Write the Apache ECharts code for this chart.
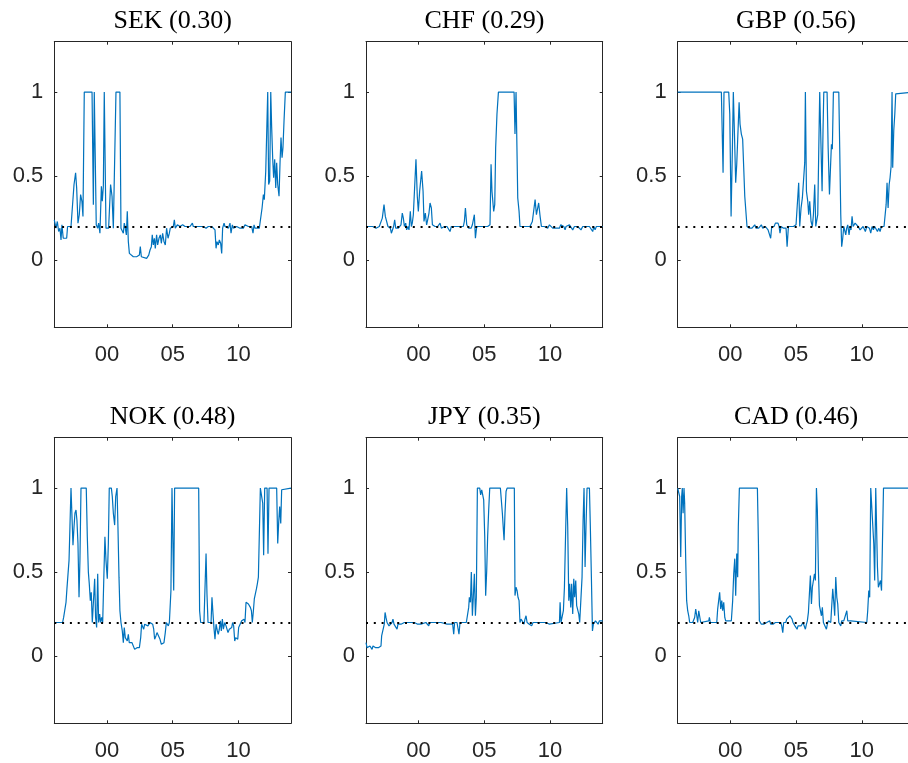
<!DOCTYPE html>
<html><head><meta charset="utf-8">
<script src="https://cdn.jsdelivr.net/npm/echarts@6/dist/echarts.min.js"></script>
<style>html,body{margin:0;padding:0;background:#fff}#chart{width:908px;height:763px}</style>
</head><body><div id="chart"></div>
<script>
const currencies = ['SEK','CHF','GBP','NOK','JPY','CAD'];
const shares = ['0.30','0.29','0.56','0.48','0.35','0.46'];
const xTickYears = [2000, 2005, 2010];
const xTickLabels = ['00', '05', '10'];
const yTicks = [0, 0.5, 1];
const yTickLabels = ['0', '0.5', '1'];
const threshold = 0.2;

const sekData = [[1996.00,0.24],[1996.13,0.19],[1996.23,0.23],[1996.33,0.17],[1996.43,0.19],[1996.51,0.12],[1996.58,0.21],[1996.68,0.13],[1996.81,0.14],[1996.94,0.13],[1997.01,0.20],[1997.27,0.20],[1997.39,0.21],[1997.50,0.45],[1997.62,0.52],[1997.70,0.43],[1997.80,0.22],[1997.90,0.27],[1998.00,0.39],[1998.10,0.35],[1998.18,0.26],[1998.28,1],[1998.87,1],[1998.97,0.33],[1999.04,1],[1999.12,1],[1999.19,0.21],[1999.30,0.19],[1999.37,0.22],[1999.47,0.16],[1999.58,0.44],[1999.65,0.35],[1999.73,0.44],[1999.80,1],[1999.88,1],[1999.93,0.19],[2000.03,0.20],[2000.13,0.19],[2000.28,0.45],[2000.39,0.38],[2000.49,0.19],[2000.61,0.20],[2000.69,1],[2000.99,1],[2001.07,0.19],[2001.17,0.20],[2001.25,0.16],[2001.32,0.22],[2001.40,0.19],[2001.48,0.15],[2001.55,0.29],[2001.63,0.11],[2001.71,0.04],[2001.83,0.03],[2002.01,0.02],[2002.26,0.02],[2002.47,0.03],[2002.54,0.08],[2002.62,0.02],[2002.77,0.01],[2003.02,0.01],[2003.18,0.03],[2003.28,0.06],[2003.38,0.08],[2003.45,0.15],[2003.53,0.09],[2003.61,0.13],[2003.68,0.07],[2003.78,0.15],[2003.86,0.09],[2003.96,0.13],[2004.06,0.15],[2004.14,0.10],[2004.24,0.16],[2004.34,0.11],[2004.44,0.09],[2004.54,0.19],[2004.65,0.13],[2004.75,0.16],[2004.82,0.19],[2004.95,0.18],[2005.05,0.20],[2005.13,0.24],[2005.20,0.19],[2005.36,0.21],[2005.56,0.20],[2005.76,0.21],[2005.94,0.20],[2006.12,0.20],[2006.32,0.20],[2006.50,0.22],[2006.57,0.20],[2006.83,0.20],[2007.08,0.20],[2007.33,0.20],[2007.54,0.19],[2007.71,0.20],[2007.84,0.19],[2007.97,0.20],[2008.09,0.20],[2008.22,0.18],[2008.30,0.07],[2008.37,0.11],[2008.47,0.09],[2008.55,0.12],[2008.65,0.10],[2008.73,0.04],[2008.80,0.19],[2008.91,0.22],[2008.98,0.20],[2009.11,0.21],[2009.24,0.19],[2009.36,0.22],[2009.44,0.16],[2009.54,0.21],[2009.62,0.19],[2009.74,0.20],[2009.87,0.20],[2010.00,0.20],[2010.12,0.19],[2010.25,0.20],[2010.38,0.19],[2010.50,0.21],[2010.63,0.20],[2010.76,0.20],[2010.88,0.20],[2011.01,0.20],[2011.11,0.16],[2011.19,0.21],[2011.26,0.19],[2011.39,0.20],[2011.59,0.19],[2011.72,0.20],[2011.80,0.31],[2011.90,0.39],[2011.97,0.36],[2012.08,0.53],[2012.15,0.54],[2012.23,1],[2012.30,0.45],[2012.38,0.47],[2012.46,1],[2012.53,0.79],[2012.61,0.60],[2012.68,0.49],[2012.76,0.60],[2012.84,0.43],[2012.91,0.58],[2012.99,0.45],[2013.09,0.38],[2013.17,0.59],[2013.24,0.73],[2013.32,0.61],[2013.39,0.67],[2013.47,0.83],[2013.57,1],[2014.00,1]];

const chfData = [[1996.00,0.20],[1996.25,0.20],[1996.51,0.20],[1996.76,0.19],[1997.01,0.20],[1997.14,0.20],[1997.24,0.25],[1997.37,0.33],[1997.47,0.26],[1997.57,0.25],[1997.67,0.20],[1997.77,0.21],[1997.85,0.19],[1997.93,0.16],[1998.03,0.17],[1998.10,0.20],[1998.18,0.24],[1998.26,0.19],[1998.36,0.20],[1998.46,0.19],[1998.56,0.20],[1998.66,0.21],[1998.76,0.28],[1998.84,0.25],[1998.92,0.20],[1999.02,0.22],[1999.09,0.18],[1999.19,0.20],[1999.27,0.18],[1999.37,0.29],[1999.45,0.20],[1999.52,0.22],[1999.60,0.27],[1999.68,0.27],[1999.75,0.27],[1999.80,0.60],[1999.90,0.38],[1999.98,0.29],[2000.08,0.41],[2000.23,0.53],[2000.34,0.41],[2000.41,0.23],[2000.51,0.28],[2000.61,0.21],[2000.69,0.24],[2000.79,0.28],[2000.87,0.34],[2000.97,0.31],[2001.05,0.21],[2001.15,0.20],[2001.25,0.20],[2001.35,0.19],[2001.45,0.20],[2001.55,0.20],[2001.63,0.22],[2001.73,0.19],[2001.83,0.20],[2001.96,0.20],[2002.06,0.19],[2002.16,0.20],[2002.29,0.19],[2002.39,0.17],[2002.49,0.20],[2002.72,0.20],[2002.97,0.20],[2003.23,0.20],[2003.40,0.20],[2003.48,0.23],[2003.56,0.31],[2003.66,0.21],[2003.73,0.20],[2003.81,0.19],[2003.89,0.20],[2003.99,0.19],[2004.09,0.21],[2004.16,0.20],[2004.24,0.27],[2004.32,0.13],[2004.42,0.20],[2004.54,0.20],[2004.75,0.20],[2005.00,0.20],[2005.13,0.19],[2005.25,0.20],[2005.38,0.20],[2005.43,0.21],[2005.51,0.57],[2005.58,0.41],[2005.71,0.29],[2005.79,0.33],[2005.86,0.67],[2005.96,0.87],[2006.07,1],[2007.26,1],[2007.33,0.75],[2007.41,1],[2007.46,1],[2007.54,0.37],[2007.64,0.29],[2007.71,0.20],[2007.79,0.19],[2008.04,0.20],[2008.30,0.20],[2008.47,0.20],[2008.55,0.21],[2008.65,0.23],[2008.75,0.24],[2008.86,0.36],[2008.96,0.27],[2009.06,0.27],[2009.13,0.34],[2009.24,0.26],[2009.34,0.20],[2009.44,0.19],[2009.56,0.20],[2009.69,0.21],[2009.82,0.19],[2009.95,0.21],[2010.07,0.20],[2010.20,0.19],[2010.33,0.20],[2010.45,0.19],[2010.58,0.20],[2010.71,0.19],[2010.81,0.21],[2010.88,0.20],[2010.96,0.22],[2011.04,0.20],[2011.14,0.18],[2011.21,0.20],[2011.34,0.19],[2011.47,0.21],[2011.59,0.20],[2011.72,0.18],[2011.85,0.20],[2011.97,0.19],[2012.10,0.20],[2012.23,0.19],[2012.35,0.18],[2012.48,0.20],[2012.61,0.19],[2012.74,0.20],[2012.86,0.19],[2012.99,0.20],[2013.11,0.19],[2013.24,0.17],[2013.32,0.20],[2013.42,0.18],[2013.52,0.20],[2013.62,0.19],[2013.75,0.20],[2013.88,0.20],[2014.00,0.20]];

const gbpData = [[1996.00,1],[1999.32,1],[1999.40,1],[1999.45,0.52],[1999.52,1],[1999.88,1],[1999.96,0.87],[2000.06,0.26],[2000.16,0.67],[2000.23,1],[2000.31,0.77],[2000.41,0.46],[2000.49,0.57],[2000.56,0.56],[2000.67,0.94],[2000.74,0.81],[2000.84,0.75],[2000.94,0.72],[2001.02,0.55],[2001.10,0.38],[2001.20,0.38],[2001.27,0.20],[2001.38,0.20],[2001.45,0.19],[2001.55,0.20],[2001.65,0.19],[2001.76,0.20],[2001.86,0.21],[2001.96,0.19],[2002.06,0.20],[2002.16,0.19],[2002.26,0.20],[2002.36,0.21],[2002.47,0.19],[2002.57,0.20],[2002.67,0.20],[2002.77,0.21],[2002.87,0.18],[2002.97,0.19],[2003.07,0.13],[2003.15,0.20],[2003.23,0.19],[2003.33,0.20],[2003.43,0.22],[2003.53,0.21],[2003.63,0.22],[2003.71,0.20],[2003.78,0.16],[2003.86,0.20],[2003.94,0.19],[2004.04,0.19],[2004.14,0.20],[2004.24,0.19],[2004.32,0.08],[2004.42,0.20],[2004.49,0.19],[2004.60,0.20],[2004.70,0.19],[2004.80,0.20],[2004.90,0.20],[2005.00,0.21],[2005.13,0.20],[2005.20,0.46],[2005.28,0.20],[2005.38,0.31],[2005.48,0.37],[2005.56,0.37],[2005.66,0.58],[2005.71,1],[2005.79,0.41],[2005.89,0.35],[2005.96,0.27],[2006.04,0.35],[2006.14,0.23],[2006.24,0.20],[2006.32,0.27],[2006.42,0.45],[2006.50,0.20],[2006.57,0.20],[2006.65,0.27],[2006.73,0.67],[2006.80,1],[2006.85,1],[2006.93,0.57],[2006.98,0.41],[2007.05,0.77],[2007.11,1],[2007.36,1],[2007.44,0.67],[2007.54,0.39],[2007.61,0.53],[2007.69,0.69],[2007.76,0.66],[2007.84,1],[2008.25,1],[2008.32,0.67],[2008.40,0.27],[2008.47,0.08],[2008.55,0.13],[2008.63,0.20],[2008.70,0.21],[2008.78,0.15],[2008.85,0.19],[2008.93,0.21],[2009.03,0.15],[2009.11,0.20],[2009.18,0.18],[2009.26,0.26],[2009.34,0.20],[2009.41,0.21],[2009.49,0.22],[2009.56,0.21],[2009.64,0.22],[2009.72,0.20],[2009.79,0.21],[2009.87,0.18],[2009.95,0.19],[2010.02,0.18],[2010.10,0.20],[2010.17,0.21],[2010.27,0.17],[2010.38,0.20],[2010.48,0.21],[2010.58,0.19],[2010.68,0.16],[2010.78,0.20],[2010.88,0.18],[2010.98,0.20],[2011.09,0.19],[2011.19,0.17],[2011.29,0.19],[2011.39,0.17],[2011.49,0.20],[2011.59,0.19],[2011.69,0.20],[2011.80,0.20],[2011.85,0.33],[2011.92,0.46],[2012.00,0.31],[2012.08,0.45],[2012.15,0.49],[2012.23,0.56],[2012.30,1],[2012.35,0.55],[2012.43,0.77],[2012.51,0.87],[2012.58,0.99],[2012.66,1],[2014.00,1]];

const nokData = [[1996.00,0.20],[1996.63,0.20],[1996.71,0.23],[1996.79,0.27],[1996.89,0.32],[1996.96,0.40],[1997.04,0.41],[1997.12,0.57],[1997.19,0.77],[1997.27,1],[1997.34,1],[1997.42,0.66],[1997.50,0.77],[1997.57,0.85],[1997.65,0.87],[1997.72,0.81],[1997.80,0.67],[1997.88,0.35],[1997.95,0.57],[1998.03,1],[1998.43,1],[1998.51,0.71],[1998.59,0.50],[1998.66,0.43],[1998.74,0.33],[1998.81,0.38],[1998.89,0.20],[1998.99,0.19],[1999.07,0.46],[1999.14,0.23],[1999.22,0.17],[1999.30,0.49],[1999.37,0.20],[1999.45,0.25],[1999.52,0.20],[1999.60,0.23],[1999.68,0.20],[1999.78,0.51],[1999.85,0.71],[1999.93,0.57],[2000.03,0.46],[2000.11,0.67],[2000.18,1],[2000.34,1],[2000.41,0.95],[2000.49,0.85],[2000.59,0.78],[2000.67,0.95],[2000.77,1],[2000.84,0.77],[2000.92,0.47],[2000.99,0.27],[2001.07,0.20],[2001.17,0.15],[2001.25,0.08],[2001.32,0.17],[2001.40,0.11],[2001.48,0.11],[2001.55,0.09],[2001.63,0.13],[2001.70,0.08],[2001.81,0.08],[2001.91,0.08],[2002.01,0.08],[2002.11,0.04],[2002.19,0.05],[2002.29,0.05],[2002.39,0.05],[2002.47,0.05],[2002.57,0.11],[2002.64,0.19],[2002.72,0.20],[2002.80,0.16],[2002.87,0.19],[2002.95,0.18],[2003.02,0.20],[2003.12,0.18],[2003.20,0.19],[2003.28,0.20],[2003.38,0.20],[2003.48,0.19],[2003.56,0.16],[2003.63,0.10],[2003.73,0.12],[2003.81,0.14],[2003.89,0.13],[2003.96,0.13],[2004.04,0.10],[2004.14,0.07],[2004.24,0.06],[2004.34,0.08],[2004.44,0.14],[2004.52,0.20],[2004.60,0.19],[2004.67,0.18],[2004.75,0.20],[2004.80,0.21],[2004.87,0.39],[2004.95,1],[2005.03,1],[2005.08,0.39],[2005.15,1],[2006.98,1],[2007.05,0.27],[2007.13,0.20],[2007.21,0.21],[2007.28,0.20],[2007.38,0.20],[2007.46,0.20],[2007.54,0.61],[2007.61,0.37],[2007.69,0.20],[2007.76,0.21],[2007.84,0.20],[2007.92,0.20],[2007.99,0.35],[2008.07,0.25],[2008.15,0.16],[2008.22,0.10],[2008.30,0.19],[2008.40,0.15],[2008.47,0.13],[2008.55,0.16],[2008.63,0.21],[2008.70,0.15],[2008.78,0.22],[2008.86,0.16],[2008.96,0.20],[2009.06,0.18],[2009.13,0.17],[2009.21,0.14],[2009.31,0.16],[2009.41,0.15],[2009.49,0.17],[2009.56,0.20],[2009.64,0.18],[2009.72,0.09],[2009.79,0.11],[2009.87,0.11],[2009.95,0.10],[2010.02,0.17],[2010.10,0.18],[2010.17,0.16],[2010.25,0.21],[2010.33,0.20],[2010.43,0.22],[2010.50,0.20],[2010.58,0.32],[2010.66,0.32],[2010.76,0.31],[2010.83,0.32],[2010.91,0.29],[2010.99,0.27],[2011.06,0.20],[2011.14,0.27],[2011.21,0.34],[2011.29,0.37],[2011.37,0.40],[2011.44,0.43],[2011.52,0.47],[2011.59,0.48],[2011.67,1],[2011.75,1],[2011.85,0.91],[2011.92,0.60],[2012.00,1],[2012.18,1],[2012.25,0.61],[2012.33,1],[2012.91,1],[2012.99,0.67],[2013.06,0.79],[2013.14,0.89],[2013.22,0.79],[2013.29,0.99],[2013.37,1],[2014.00,1]];

const jpyData = [[1996.00,0.08],[1996.08,0.05],[1996.15,0.06],[1996.23,0.04],[1996.30,0.06],[1996.38,0.05],[1996.46,0.04],[1996.53,0.06],[1996.63,0.05],[1996.74,0.05],[1996.84,0.06],[1996.94,0.05],[1997.04,0.06],[1997.14,0.06],[1997.19,0.12],[1997.27,0.11],[1997.34,0.13],[1997.39,0.19],[1997.45,0.26],[1997.52,0.23],[1997.60,0.20],[1997.67,0.20],[1997.75,0.18],[1997.83,0.17],[1997.90,0.19],[1997.98,0.20],[1998.05,0.22],[1998.13,0.19],[1998.21,0.20],[1998.28,0.18],[1998.36,0.16],[1998.43,0.19],[1998.51,0.20],[1998.66,0.19],[1998.79,0.20],[1998.92,0.20],[1999.04,0.20],[1999.17,0.20],[1999.30,0.20],[1999.42,0.20],[1999.55,0.21],[1999.68,0.20],[1999.80,0.20],[1999.93,0.19],[2000.06,0.20],[2000.18,0.19],[2000.31,0.20],[2000.56,0.20],[2000.69,0.19],[2000.77,0.18],[2000.84,0.20],[2001.20,0.20],[2001.70,0.20],[2002.16,0.19],[2002.26,0.20],[2002.39,0.19],[2002.52,0.20],[2002.59,0.19],[2002.67,0.13],[2002.74,0.20],[2002.85,0.20],[2002.92,0.20],[2003.00,0.19],[2003.07,0.13],[2003.15,0.20],[2003.23,0.19],[2003.33,0.20],[2003.63,0.20],[2003.73,0.21],[2003.81,0.29],[2003.86,0.35],[2003.94,0.32],[2004.01,0.50],[2004.09,0.24],[2004.16,0.35],[2004.24,0.49],[2004.32,0.24],[2004.39,0.35],[2004.47,1],[2004.65,1],[2004.72,0.96],[2004.80,0.99],[2004.87,1],[2004.95,0.93],[2005.03,0.71],[2005.10,0.36],[2005.18,0.51],[2005.25,0.71],[2005.33,0.87],[2005.41,1],[2006.22,1],[2006.29,0.99],[2006.37,0.85],[2006.45,0.75],[2006.50,0.69],[2006.57,0.85],[2006.65,0.98],[2006.73,1],[2007.28,1],[2007.33,0.36],[2007.41,0.41],[2007.49,0.39],[2007.56,0.35],[2007.64,0.33],[2007.71,0.20],[2007.79,0.22],[2007.87,0.21],[2007.94,0.21],[2008.02,0.19],[2008.09,0.22],[2008.17,0.24],[2008.25,0.20],[2008.42,0.19],[2008.53,0.20],[2008.60,0.18],[2008.70,0.20],[2008.80,0.21],[2009.06,0.20],[2009.18,0.19],[2009.44,0.20],[2009.56,0.19],[2009.69,0.20],[2009.95,0.19],[2010.07,0.20],[2010.71,0.20],[2010.76,0.32],[2010.83,0.20],[2010.91,0.20],[2011.01,0.27],[2011.09,0.41],[2011.19,0.77],[2011.26,1],[2011.34,0.77],[2011.42,0.33],[2011.49,0.43],[2011.57,0.29],[2011.64,0.43],[2011.72,0.25],[2011.80,0.46],[2011.87,0.35],[2011.95,0.45],[2012.02,0.30],[2012.10,0.30],[2012.18,0.25],[2012.25,0.20],[2012.35,0.20],[2012.43,0.47],[2012.51,0.81],[2012.58,1],[2012.66,0.53],[2012.73,0.77],[2012.81,1],[2012.99,1],[2013.06,0.77],[2013.14,0.47],[2013.22,0.15],[2013.29,0.19],[2013.37,0.19],[2013.45,0.21],[2013.55,0.22],[2013.65,0.19],[2013.75,0.21],[2013.88,0.20],[2014.00,0.21]];

const cadData = [[1996.00,1],[1996.08,1],[1996.15,0.95],[1996.23,0.59],[1996.30,0.95],[1996.35,1],[1996.41,0.85],[1996.48,1],[1996.53,0.91],[1996.61,0.57],[1996.68,0.33],[1996.76,0.27],[1996.84,0.24],[1996.91,0.20],[1997.14,0.20],[1997.22,0.20],[1997.29,0.23],[1997.37,0.28],[1997.45,0.24],[1997.52,0.20],[1997.60,0.27],[1997.67,0.26],[1997.75,0.20],[1998.36,0.21],[1998.41,0.23],[1998.48,0.20],[1998.97,0.20],[1999.04,0.28],[1999.12,0.29],[1999.19,0.38],[1999.27,0.28],[1999.35,0.33],[1999.42,0.27],[1999.50,0.32],[1999.58,0.23],[1999.65,0.21],[1999.73,0.20],[2000.08,0.21],[2000.18,0.33],[2000.26,0.49],[2000.34,0.58],[2000.41,0.36],[2000.49,0.61],[2000.56,0.47],[2000.61,0.77],[2000.69,1],[2002.06,1],[2002.14,0.67],[2002.21,0.21],[2002.29,0.20],[2002.36,0.19],[2002.44,0.20],[2002.54,0.19],[2002.62,0.20],[2002.69,0.19],[2002.77,0.20],[2002.85,0.19],[2002.92,0.20],[2003.00,0.21],[2003.07,0.19],[2003.15,0.20],[2003.25,0.19],[2003.33,0.20],[2003.43,0.20],[2003.53,0.19],[2003.63,0.20],[2003.73,0.19],[2003.83,0.20],[2003.91,0.18],[2003.99,0.14],[2004.06,0.20],[2004.14,0.19],[2004.22,0.20],[2004.29,0.22],[2004.37,0.21],[2004.44,0.21],[2004.54,0.24],[2004.62,0.25],[2004.70,0.22],[2004.77,0.20],[2004.85,0.19],[2004.92,0.18],[2005.00,0.17],[2005.08,0.16],[2005.15,0.18],[2005.23,0.17],[2005.30,0.19],[2005.38,0.18],[2005.46,0.19],[2005.53,0.20],[2005.61,0.19],[2005.71,0.16],[2005.79,0.19],[2005.86,0.21],[2005.94,0.26],[2006.02,0.27],[2006.09,0.48],[2006.17,0.31],[2006.24,0.41],[2006.32,0.41],[2006.40,0.49],[2006.47,0.45],[2006.55,1],[2006.62,0.87],[2006.70,0.51],[2006.78,0.30],[2006.85,0.30],[2006.93,0.24],[2007.00,0.29],[2007.08,0.20],[2007.16,0.19],[2007.23,0.20],[2007.31,0.16],[2007.38,0.19],[2007.46,0.21],[2007.54,0.20],[2007.64,0.20],[2007.71,0.21],[2007.79,0.40],[2007.87,0.32],[2007.94,0.24],[2008.02,0.47],[2008.10,0.35],[2008.17,0.31],[2008.25,0.20],[2008.32,0.21],[2008.40,0.18],[2008.47,0.21],[2008.63,0.21],[2008.70,0.20],[2008.78,0.20],[2008.86,0.27],[2008.93,0.21],[2009.01,0.20],[2009.16,0.21],[2009.26,0.20],[2010.38,0.20],[2010.45,0.27],[2010.53,0.39],[2010.60,0.35],[2010.68,1],[2010.83,1],[2010.91,0.67],[2010.98,0.45],[2011.06,1],[2011.14,1],[2011.19,0.53],[2011.26,0.41],[2011.34,0.40],[2011.42,0.45],[2011.50,0.39],[2011.57,0.67],[2011.65,1],[2014.00,1]];

const panelData = [sekData, chfData, gbpData, nokData, jpyData, cadData];

// layout
const colLeft = [54.3, 366.0, 677.7];
const rowTop = [41.7, 437.7];
const W = 236.7, H = 285.6;
const axisColor = '#262626';

const grids = [], xAxes = [], yAxes = [], series = [], graphics = [];
currencies.forEach((c, i) => {
  const col = i % 3, row = Math.floor(i / 3);
  grids.push({left: colLeft[col], top: rowTop[row], width: W, height: H, containLabel: false, outerBoundsMode: 'none'});
  const xBase = {
    type: 'value', gridIndex: i, min: 1996, max: 2014,
    axisLine: {show: true, onZero: false, lineStyle: {color: axisColor, width: 1}},
    axisTick: {show: true, inside: true, length: 3, customValues: xTickYears, lineStyle: {color: axisColor, width: 1}},
    splitLine: {show: false}
  };
  xAxes.push(Object.assign({}, xBase, {
    position: 'bottom',
    axisLabel: {show: true, customValues: xTickYears, formatter: v => xTickLabels[xTickYears.indexOf(v)],
      margin: 17, fontSize: 22, fontFamily: '"Liberation Sans", Arial, sans-serif', color: axisColor}
  }));
  xAxes.push(Object.assign({}, xBase, {position: 'top', axisLabel: {show: false}}));
  const yBase = {
    type: 'value', gridIndex: i, min: -0.4, max: 1.3,
    axisLine: {show: true, onZero: false, lineStyle: {color: axisColor, width: 1}},
    axisTick: {show: true, inside: true, length: 3, customValues: yTicks, lineStyle: {color: axisColor, width: 1}},
    splitLine: {show: false}
  };
  yAxes.push(Object.assign({}, yBase, {
    position: 'left',
    axisLabel: {show: true, customValues: yTicks, formatter: v => yTickLabels[yTicks.indexOf(v)],
      margin: 11, fontSize: 22, fontFamily: '"Liberation Sans", Arial, sans-serif', color: axisColor}
  }));
  yAxes.push(Object.assign({}, yBase, {position: 'right', axisLabel: {show: false}}));
  series.push({
    type: 'line', xAxisIndex: 2 * i, yAxisIndex: 2 * i,
    data: panelData[i], showSymbol: false, symbol: 'none',
    lineStyle: {color: '#0072BD', width: 1.2}, itemStyle: {color: '#0072BD'},
    animation: false,
    markLine: {
      silent: true, symbol: ['none', 'none'], animation: false,
      label: {show: false},
      lineStyle: {type: [2, 5.8], color: '#000', width: 2},
      emphasis: {disabled: true},
      data: [{yAxis: threshold}]
    }
  });
  graphics.push({
    type: 'text', x: colLeft[col] + W / 2, y: rowTop[row] - 20.5,
    style: {text: c + ' (' + shares[i] + ')', font: '26px "Liberation Serif", "Times New Roman", serif',
      fill: '#000', align: 'center', verticalAlign: 'middle', textAlign: 'center', textVerticalAlign: 'middle'}
  });
});

const chart = echarts.init(document.getElementById('chart'), null, {renderer: 'canvas'});
chart.setOption({
  animation: false,
  backgroundColor: '#fff',
  grid: grids, xAxis: xAxes, yAxis: yAxes, series: series, graphic: graphics
});
</script>
</body></html>
